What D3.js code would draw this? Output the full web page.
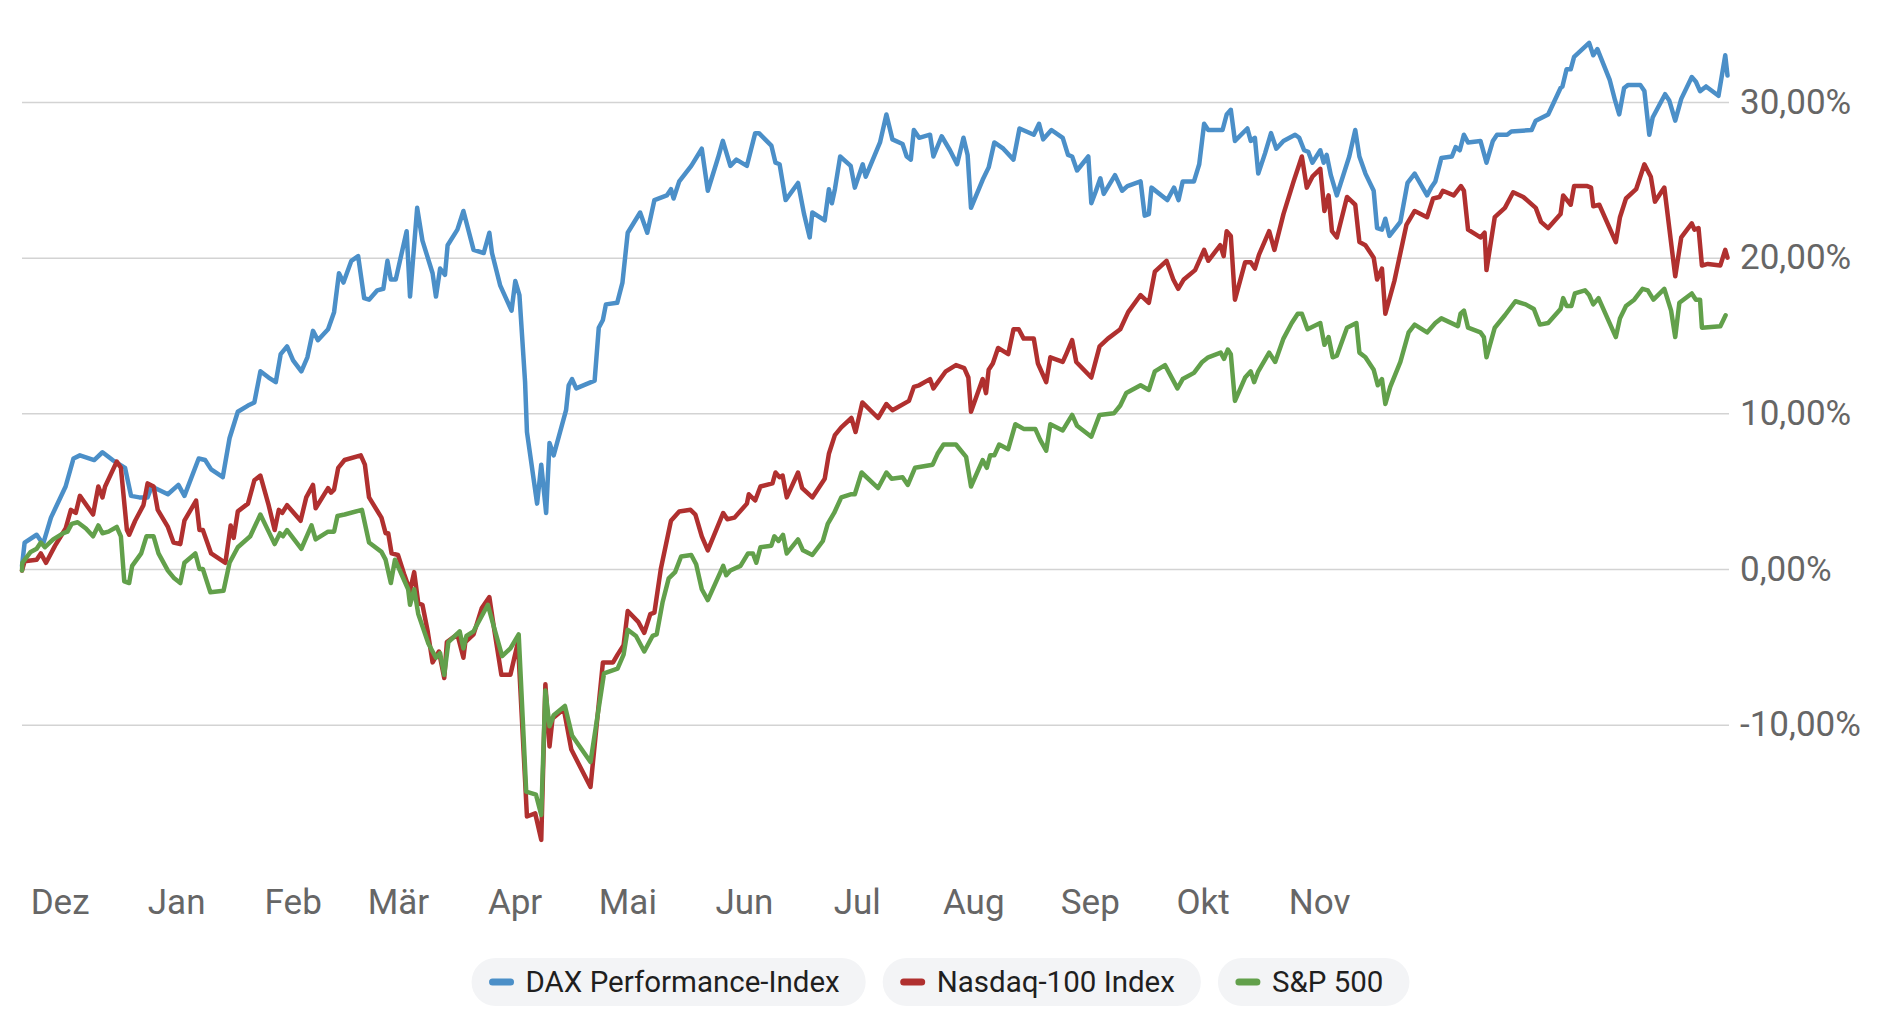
<!DOCTYPE html>
<html>
<head>
<meta charset="utf-8">
<script src="https://cdn.jsdelivr.net/npm/d3@7"></script>
<style>
  body { margin: 0; background: #fff; }
  svg { display: block; font-family: Roboto, "Noto Sans", sans-serif; }
</style>
</head>
<body>
<script>
// days counted from the first day of the chart (21.11.2024), value = % change
const startDate = new Date("2024-11-21");

const daxData = [[0,0.2],[0.7,1.7],[3.9,2.2],[5.6,1.6],[7.7,3.3],[11.6,5.3],[13.7,7.1],[15.4,7.3],[19.2,7.0],[21.4,7.5],[24.1,7.0],[27.4,6.5],[29.0,4.7],[31.2,4.6],[33.4,4.6],[34.5,5.3],[38.8,4.8],[41.6,5.4],[43.2,4.7],[47.0,7.1],[48.7,7.0],[50.3,6.4],[53.4,5.9],[55.2,8.4],[57.4,10.1],[60.1,10.5],[61.8,10.7],[63.4,12.7],[65.6,12.3],[67.5,12.0],[68.8,13.8],[70.5,14.3],[72.1,13.4],[74.3,12.7],[75.9,13.6],[77.4,15.3],[78.7,14.7],[81.4,15.4],[83.0,16.5],[84.3,19.0],[85.5,18.4],[87.6,19.8],[89.4,20.1],[91.0,17.4],[92.3,17.3],[94.5,17.9],[96.1,18.0],[97.2,19.8],[98.1,18.6],[99.4,18.6],[102.3,21.7],[103.2,17.5],[105.1,23.2],[106.5,21.1],[109.2,19.0],[110.1,17.5],[111.2,19.3],[112.5,18.9],[113.2,20.8],[115.8,21.8],[117.4,23.0],[120.1,20.5],[122.8,20.3],[124.3,21.6],[125.0,20.3],[127.2,18.2],[130.2,16.6],[131.2,18.5],[132.3,17.6],[133.8,12.0],[134.3,8.8],[137.0,4.2],[138.1,6.7],[139.4,3.6],[140.3,8.1],[141.4,7.3],[144.7,10.2],[145.4,11.8],[146.3,12.2],[147.4,11.6],[152.3,12.1],[153.4,15.5],[154.5,16.0],[155.3,17.0],[158.3,17.1],
  [159.7,18.4],[161.1,21.6],[164.4,22.9],[166.3,21.6],[168.2,23.7],[171.5,24.0],[172.6,24.4],[173.3,23.8],[174.8,24.9],[178.0,25.9],[180.8,27.0],[182.4,24.3],[185.1,26.4],[186.4,27.5],[188.4,25.9],[190.0,26.3],[192.8,25.9],[195.0,28.0],[196.0,28.0],[199.3,27.2],[200.4,26.1],[201.5,26.0],[203.1,23.7],[206.4,24.8],[208.0,22.8],[209.5,21.3],[210.2,22.9],[213.5,22.4],[214.6,24.4],[215.4,23.5],[216.2,24.4],[217.6,26.5],[220.4,25.9],[221.5,24.5],[223.6,26.0],[224.4,25.2],[228.2,27.4],[229.9,29.2],[231.5,27.6],[234.2,27.3],[235.3,26.5],[236.4,26.3],[237.2,28.2],[238.6,27.7],[241.5,27.9],[242.4,26.5],[244.6,27.8],[246.8,26.9],[248.7,26.0],[250.4,27.7],[251.5,26.6],[252.4,23.2],[255.5,25.0],[257.1,25.8],[258.6,27.4],[261.0,27.0],[263.7,26.3],[265.3,28.3],[269.1,27.9],[270.5,28.6],[271.6,27.6],[273.8,28.2],[276.8,27.7],[278.2,26.6],[279.3,26.5],[280.6,25.6],[283.6,26.5],[284.4,23.5],[285.5,24.2],[286.8,25.1],[287.7,24.1],[290.7,25.3],[292.6,24.3],[294.0,24.6],[297.5,24.9],[298.6,22.7],[299.7,22.8],[300.4,24.5],[304.6,23.7],[306.4,24.5],[307.6,23.7],[308.7,24.9],[311.7,24.9],[313.1,26.0],[314.4,28.6],[315.5,28.2],[319.3,28.2],[320.4,29.2],[321.5,29.5],[322.6,27.5],[325.9,28.3],
  [326.8,27.5],[327.9,27.7],[328.8,25.4],[330.6,26.7],[332.2,28.0],[333.6,27.0],[335.5,27.5],[338.6,27.9],[339.7,27.7],[341.0,26.9],[342.1,26.8],[343.2,26.1],[345.3,26.9],[346.2,26.1],[347.0,26.6],[348.1,25.3],[349.7,24.0],[353.0,26.5],[354.6,28.2],[355.7,26.5],[357.3,25.4],[359.5,24.3],[360.4,21.9],[361.7,21.8],[362.6,22.5],[363.7,21.4],[366.6,22.3],[368.5,24.8],[370.4,25.4],[373.7,24.0],[374.8,24.5],[375.9,24.9],[377.5,26.4],[380.3,26.5],[381.3,27.1],[382.4,26.9],[383.5,27.9],[384.6,27.4],[387.9,27.5],[389.5,26.1],[391.2,27.5],[392.3,27.9],[395.0,27.9],[396.1,28.1],[401.5,28.2],[402.6,28.8],[405.9,29.2],[409.2,30.9],[409.7,31.0],[410.8,32.1],[411.9,32.1],[412.8,32.9],[416.8,33.8],[417.9,33.0],[419.0,33.4],[422.3,31.4],[423.7,30.1],[424.8,29.2],[426.1,30.9],[427.2,31.1],[430.4,31.1],[431.5,30.7],[432.8,27.9],[433.7,29.0],[437.0,30.5],[438.1,30.1],[439.7,28.8],[441.3,30.2],[444.1,31.6],[445.2,31.3],[446.3,30.7],[447.9,31.0],[451.2,30.4],[453.0,33.0],[453.6,31.7]];

const nasdaqData = [[0,-0.1],[0.7,0.5],[3.9,0.6],[5.0,1.0],[6.4,0.4],[8.8,1.5],[11.6,2.6],[13.0,3.8],[14.3,3.6],[15.4,4.7],[18.9,3.5],[20.3,5.3],[21.4,4.6],[22.1,5.3],[25.2,6.9],[26.3,6.5],[27.9,2.5],[28.5,2.2],[30.1,3.1],[32.3,4.1],[33.4,5.5],[35.0,5.3],[36.1,3.8],[38.8,2.7],[40.3,1.7],[42.1,1.6],[43.2,3.1],[46.3,4.4],[47.2,2.5],[48.1,2.5],[50.3,1.0],[54.1,0.4],[55.5,2.8],[56.3,2.0],[57.4,3.7],[60.1,4.2],[61.8,5.7],[63.4,6.0],[65.6,4.1],[67.2,2.5],[68.3,3.8],[69.2,3.6],[70.5,4.1],[74.1,3.1],[75.6,4.6],[77.4,5.4],[78.1,3.9],[81.4,5.2],[82.2,4.9],[83.0,5.1],[84.1,6.5],[85.8,7.0],[90.1,7.3],[91.2,6.7],[92.3,4.6],[95.6,3.3],[96.7,2.3],[97.4,2.3],[98.3,1.0],
  [100.0,0.9],[101.6,-0.3],[103.2,-1.4],[104.3,-0.2],[105.4,-2.2],[106.5,-2.3],[107.9,-4.0],[109.2,-6.0],[110.9,-5.3],[112.3,-7.0],[113.0,-4.7],[115.8,-4.2],[117.4,-5.7],[117.9,-4.7],[120.1,-4.2],[122.3,-2.5],[124.3,-1.8],[125.6,-3.9],[127.5,-6.8],[129.9,-6.8],[131.9,-4.7],[134.3,-15.9],[136.5,-15.7],[138.1,-17.4],[139.2,-7.4],[140.3,-11.4],[141.1,-9.6],[144.1,-9.0],[146.1,-11.6],[151.2,-14.0],[154.5,-6.0],[157.2,-6.0],
  [158.4,-5.5],[160.0,-4.9],[161.1,-2.7],[163.9,-3.4],[165.5,-4.1],[167.1,-2.9],[168.2,-2.8],[169.9,0.0],
  [172.6,3.1],[174.8,3.7],[177.8,3.8],[179.1,3.5],[180.8,2.1],[182.4,1.2],[186.5,3.6],[187.6,3.2],[189.5,3.3],[192.8,4.2],[193.3,4.8],[195.0,4.4],[196.4,5.3],[199.6,5.5],[200.4,6.2],[201.5,5.9],[202.3,6.0],[203.4,4.6],[206.4,6.2],[207.5,5.2],[210.2,4.6],[213.5,5.8],[214.6,7.4],[216.2,8.6],[217.9,9.1],[220.6,9.7],[221.7,8.8],[223.5,10.7],[227.7,9.7],[229.9,10.6],[231.5,10.2],[235.9,10.8],[237.2,11.7],[238.6,11.8],[241.5,12.2],[242.4,11.6],[245.7,12.7],[248.4,13.1],[250.6,12.9],[251.7,12.3],[252.4,10.1],[255.5,12.2],[256.4,11.3],[257.1,12.8],[258.2,13.2],[259.6,14.2],[262.3,13.8],[263.7,15.4],[265.1,15.4],[266.4,14.8],[269.1,14.8],[270.2,13.2],[272.4,12.0],[273.5,13.6],[276.8,13.3],[277.9,13.9],[279.3,14.7],[280.4,13.3],[284.4,12.3],[286.6,14.3],[288.8,14.8],[292.1,15.4],[294.2,16.5],[297.5,17.6],[299.7,17.1],[301.3,19.1],[304.4,19.8],[306.2,18.6],[307.5,18.0],[309.0,18.6],[312.0,19.2],[314.4,20.5],[315.5,19.8],[318.7,20.8],[319.6,20.1],[320.4,21.7],[321.5,21.4],[322.6,17.3],[325.3,19.7],
  [326.8,19.7],[327.9,19.3],[329.0,20.2],[331.7,21.7],[333.1,20.5],[335.5,22.8],[338.2,24.9],[340.4,26.5],[341.7,24.5],[343.2,25.2],[345.3,25.7],[346.4,23.0],[347.5,24.0],[348.4,21.7],[349.7,21.3],[352.4,23.9],[354.6,23.4],[355.7,21.0],[357.3,20.8],[359.5,20.0],[360.4,18.6],[361.7,19.3],[362.6,16.4],[365.0,18.5],[368.2,22.1],[370.4,23.0],[373.7,22.6],[375.3,23.8],[377.0,23.9],[377.9,24.3],[380.8,24.0],[382.7,24.6],[383.5,24.3],[384.6,21.8],[387.9,21.3],[389.0,21.6],[389.5,19.2],[391.7,22.6],[394.4,23.2],[396.6,24.2],[399.3,23.9],[402.6,23.2],[404.0,22.3],[405.9,21.9],[409.2,22.8],[409.9,24.0],[411.9,23.4],[412.8,24.6],[416.3,24.6],[417.3,24.5],[417.9,23.3],[419.5,23.4],[423.9,21.0],[425.0,22.6],[426.6,23.8],[429.3,24.4],[431.5,26.0],[433.2,25.2],[434.3,23.6],[436.8,24.5],[439.7,18.8],[441.3,21.3],[444.1,22.2],[444.8,21.8],[445.9,21.9],[446.8,19.5],[448.4,19.6],[451.7,19.5],[453.0,20.5],[453.6,20.0]];

const spData = [[0,-0.1],[0.1,0.4],[2.3,1.1],[3.9,1.3],[5.0,1.7],[6.1,1.4],[8.3,1.9],[11.0,2.3],[12.1,2.4],[13.2,2.9],[14.8,3.0],[17.0,2.6],[18.9,2.1],[20.3,2.8],[21.4,2.3],[23.0,2.4],[25.2,2.7],[26.3,2.1],[27.2,-0.8],[28.5,-0.9],[29.3,0.2],[31.7,1.0],[33.1,2.1],[35.0,2.1],[36.3,1.0],[38.8,-0.1],[40.5,-0.6],[42.1,-0.9],[43.2,0.4],[46.1,1.0],[47.2,0.0],[48.1,0.0],[50.1,-1.5],[53.6,-1.4],[55.2,0.4],[57.4,1.4],[60.7,2.1],[63.4,3.5],[65.6,2.4],[67.2,1.6],[68.6,2.3],[69.4,2.1],[70.5,2.5],[74.3,1.3],[77.0,2.8],[78.1,1.9],[81.4,2.4],[83.0,2.4],[83.9,3.4],[85.8,3.5],[90.4,3.8],[92.3,1.7],[95.6,1.1],[96.7,0.6],[98.1,-0.9],[99.2,0.6],[102.7,-1.3],[103.2,-2.3],[104.3,-1.3],[105.4,-2.9],[108.1,-4.8],[110.1,-5.7],[111.2,-5.4],[112.3,-6.8],[113.4,-4.7],[116.4,-4.0],[117.4,-5.1],[118.2,-4.3],[120.1,-4.0],[123.9,-2.3],[125.6,-3.8],[127.7,-5.6],[129.9,-5.1],[132.1,-4.2],[134.1,-14.3],[136.7,-14.5],[138.1,-15.8],[139.2,-7.8],[140.3,-10.1],[141.4,-9.4],[144.4,-8.8],[146.3,-10.7],[151.2,-12.4],[154.8,-6.7],
  [158.4,-6.4],[160.0,-5.5],[161.1,-3.9],[163.3,-4.3],[165.5,-5.3],[167.7,-4.3],[168.8,-4.2],[170.4,-2.1],[172.0,-0.6],[173.7,-0.2],[175.3,0.8],[178.0,0.9],[179.3,0.3],[180.8,-1.3],[182.4,-2.0],[186.5,0.2],[187.3,-0.4],[188.4,-0.1],[191.1,0.2],[193.1,1.0],[194.4,1.0],[195.3,0.4],[196.4,1.4],[199.3,1.5],[200.1,2.1],[201.2,1.8],[202.4,2.2],[203.4,1.0],[206.4,1.9],[207.7,1.2],[210.2,0.9],[213.0,1.8],[214.3,2.9],[216.0,3.6],
  [217.9,4.6],[220.4,4.8],[221.5,4.8],[223.3,6.2],[227.7,5.2],[229.9,6.2],[231.3,5.8],[234.2,5.9],[235.6,5.4],[237.5,6.5],[242.2,6.7],[243.5,7.4],[245.1,8.0],[248.4,8.0],[251.1,7.2],[252.4,5.3],[255.5,7.0],[256.6,6.5],[257.5,7.3],[258.6,7.3],[259.9,8.0],[262.3,7.7],[264.2,9.3],[266.4,9.0],[269.5,9.0],[270.8,8.3],[272.4,7.6],[273.5,9.3],[276.8,8.9],[279.3,9.9],[280.6,9.2],[284.4,8.5],[286.6,9.9],[290.4,10.0],[292.1,10.5],[293.7,11.3],[297.5,11.8],[299.7,11.5],[301.3,12.7],[304.0,13.1],[307.3,11.6],[308.7,12.2],[311.7,12.6],[313.9,13.3],[315.5,13.6],[318.8,13.9],[319.7,13.5],[320.7,14.1],[321.5,13.8],[322.6,10.8],[325.3,12.3],
  [326.8,12.7],[327.7,12.0],[328.8,12.7],[331.7,13.9],[333.3,13.3],[335.5,14.8],[337.7,15.8],[339.3,16.4],[340.4,16.4],[341.9,15.4],[345.3,15.8],[346.4,14.4],[347.5,14.9],[348.6,13.6],[349.7,13.7],[352.4,15.5],[354.9,15.8],[355.7,13.9],[357.3,13.6],[359.5,12.8],[360.6,11.8],[361.7,12.2],[362.6,10.6],[363.9,11.7],[366.6,13.3],[368.8,15.2],[370.4,15.7],[373.7,15.2],[375.9,15.8],[377.5,16.1],[381.9,15.6],[382.6,16.4],[383.5,16.6],[384.6,15.5],[387.9,15.2],[388.8,14.9],[389.5,13.6],[391.7,15.5],[394.4,16.3],[397.2,17.2],[399.9,17.0],[402.1,16.7],[403.7,15.7],[405.9,15.8],[409.2,16.7],[409.9,17.4],[410.8,16.9],[412.1,16.9],[413.0,17.7],[415.7,17.9],[416.8,17.6],[417.9,17.0],[419.3,17.4],[423.9,14.9],[425.0,16.1],[426.6,16.9],[428.8,17.3],[431.0,18.0],[432.4,17.9],[433.9,17.3],[436.8,18.0],[438.6,16.6],[439.7,14.9],[440.8,17.1],[444.1,17.7],[445.2,17.3],[446.3,17.3],[446.8,15.5],[451.7,15.6],[453.1,16.3]];

const monthTicks = ["2024-12-01","2025-01-01","2025-02-01","2025-03-01","2025-04-01","2025-05-01","2025-06-01","2025-07-01","2025-08-01","2025-09-01","2025-10-01","2025-11-01"];
const monthLabels = ["Dez","Jan","Feb","Mär","Apr","Mai","Jun","Jul","Aug","Sep","Okt","Nov"];

const yTicks = [-10, 0, 10, 20, 30];
const yLabels = ["-10,00%", "0,00%", "10,00%", "20,00%", "30,00%"];

const seriesNames = ["DAX Performance-Index", "Nasdaq-100 Index", "S&P 500"];
const seriesColors = ["#4b8fc8", "#b0302f", "#62a04b"];

const W = 1889, H = 1032;
const left = 22, right = 1729;

const dayToDate = d => new Date(startDate.getTime() + d * 864e5);

const x = d3.scaleTime()
  .domain([startDate, dayToDate(454)])
  .range([left, right]);

const y = d3.scaleLinear()
  .domain([0, 30])
  .range([569, 102]);

const svg = d3.select("body").append("svg")
  .attr("width", W)
  .attr("height", H);

// grid + labels on the right
const yAxis = svg.append("g")
  .attr("transform", `translate(${right},0)`)
  .call(d3.axisRight(y)
    .tickValues(yTicks)
    .tickFormat((d, i) => yLabels[i])
    .tickSize(-(right - left))
    .tickPadding(11));
yAxis.select(".domain").remove();
yAxis.selectAll(".tick line").attr("stroke", "#d3d3d3").attr("stroke-width", 1.5);
yAxis.selectAll(".tick text")
  .attr("fill", "#666")
  .style("font-size", "35px")
  .style("font-family", "Roboto, sans-serif");

const xAxis = svg.append("g")
  .attr("transform", "translate(0,902)")
  .call(d3.axisBottom(x)
    .tickValues(monthTicks.map(s => new Date(s)))
    .tickFormat((d, i) => monthLabels[i])
    .tickSize(0)
    .tickPadding(0));
xAxis.select(".domain").remove();
xAxis.selectAll(".tick text")
  .attr("dy", "0.35em")
  .attr("fill", "#666")
  .style("font-size", "35px")
  .style("font-family", "Roboto, sans-serif");

const line = d3.line()
  .x(d => x(dayToDate(d[0])))
  .y(d => y(d[1]));

[daxData, nasdaqData, spData].forEach((data, i) => {
  svg.append("path")
    .datum(data)
    .attr("fill", "none")
    .attr("stroke", seriesColors[i])
    .attr("stroke-width", 4.5)
    .attr("stroke-linejoin", "round")
    .attr("stroke-linecap", "round")
    .attr("d", line);
});

// legend pills
const legendY = 982;
const legend = svg.append("g");
const items = legend.selectAll("g")
  .data(seriesNames)
  .enter()
  .append("g");

items.append("rect")
  .attr("y", legendY - 24)
  .attr("height", 48)
  .attr("rx", 24)
  .attr("fill", "#f3f4f6");

items.append("line")
  .attr("x1", 21).attr("x2", 39)
  .attr("y1", legendY).attr("y2", legendY)
  .attr("stroke", (d, i) => seriesColors[i])
  .attr("stroke-width", 7)
  .attr("stroke-linecap", "round");

items.append("text")
  .attr("x", 54)
  .attr("y", legendY)
  .attr("dy", "0.35em")
  .attr("fill", "#1f1f1f")
  .style("font-size", "29.5px")
  .text(d => d);

const gap = 17;
const widths = [];
items.each(function () {
  const tw = d3.select(this).select("text").node().getComputedTextLength();
  widths.push(54 + tw + 26);
});
const total = d3.sum(widths) + gap * (widths.length - 1);
let cx = (W - total) / 2 - 4;
items.each(function (d, i) {
  d3.select(this).attr("transform", `translate(${cx},0)`);
  d3.select(this).select("rect").attr("width", widths[i]);
  cx += widths[i] + gap;
});
</script>
</body>
</html>
